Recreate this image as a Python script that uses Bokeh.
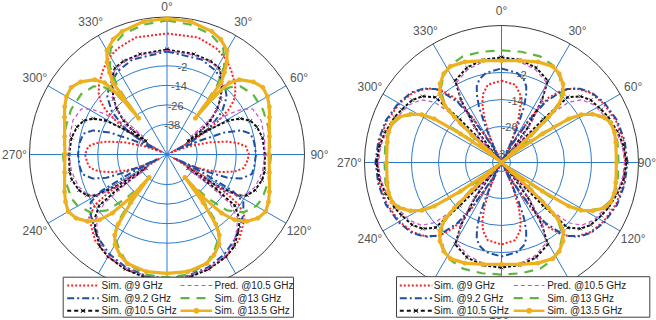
import numpy as np
from bokeh.plotting import figure
from bokeh.models import Range1d
from bokeh.embed import file_html
from bokeh.resources import INLINE
from bokeh.core.properties import value

FONT = "Liberation Sans"

# ---------------- chart values ----------------
THETA_TICKS = [0, 30, 60, 90, 120, 150, 180, 210, 240, 270, 300, 330]
R_TICKS = [-38, -26, -14, -2]
LEFT_RLIM = (-56.5, 28.0)
RIGHT_RLIM = (-42.0, 18.9)

KEYS = ["9", "9.2", "10.5", "pred", "13", "13.5"]
LABELS = ["Sim. @9 GHz", "Sim. @9.2 GHz", "Sim. @10.5 GHz",
          "Pred. @10.5 GHz", "Sim. @13 GHz", "Sim. @13.5 GHz"]

# Left panel: half patterns, angle 0..180 deg (clockwise from top), symmetric
L9_ang = [0, 15, 25, 32, 38, 44, 48, 51, 54, 57, 60, 62, 64, 66, 70, 74, 78, 81, 84, 90,
          96, 100, 104, 108, 111, 114, 117, 119, 121, 123, 125, 129, 135, 140, 150, 160, 170, 180]
L9_db = [17.9, 17.9, 15.4, 12.3, 8.0, 3.7, 0.0, -3.6, -9.8, -19.6, -31.9, -44.2, -53.4, -51.6,
         -41.1, -29.5, -18.4, -12.3, -7.9, -6.1, -7.3, -8.6, -13.5, -21.5, -28.8, -36.2, -45.4,
         -51.6, -31.9, -13.5, -2.4, 5.0, 8.6, 12.3, 16.0, 18.5, 19.7, 20.3]

L92_ang = [0, 20, 30, 40, 46, 52, 58, 62, 65, 67, 69, 72, 76, 82, 90, 98, 103, 108, 111, 113,
           115, 116, 117, 119, 122, 128, 135, 142, 150, 160, 170, 180]
L92_db = [6.8, 5.6, 3.1, -1.2, -5.5, -13.5, -25.8, -38.1, -49.1, -35.0, -19.0, -8.6, -3.6, -2.4,
          -1.8, -2.4, -3.0, -8.6, -16.5, -28.8, -41.1, -50.4, -31.9, -10.4, -1.2, 3.1, 6.8, 10.5,
          14.2, 17.3, 19.1, 19.7]

L105_ang = [0, 15, 25, 31, 35, 39, 44, 48, 52, 55, 57, 59, 61, 64, 68, 73, 80, 90, 100, 105,
            112, 117, 120, 122, 123.5, 125, 127, 132, 138, 144, 150, 160, 170, 180]
L105_db = [8.0, 7.4, 6.8, 5.6, 1.9, -3.0, -9.2, -15.3, -22.7, -30.7, -41.1, -28.8, -13.5, -6.1,
           -1.2, 1.3, 3.1, 3.7, 4.3, 4.0, 1.9, -1.2, -6.1, -19.6, -41.1, -19.6, -4.3, 3.7, 8.6,
           13.6, 16.0, 18.5, 20.3, 20.9]

LP105_ang = [0, 15, 25, 31, 35, 39, 44, 48, 51, 53, 55, 57, 59, 62, 70, 80, 90, 100, 110, 118,
             121, 123, 124.5, 126, 128, 132, 138, 144, 150, 160, 170, 180]
LP105_db = [7.4, 6.8, 6.2, 5.0, 1.9, -2.4, -8.6, -14.7, -22.7, -38.1, -22.7, -10.4, -2.4, 3.1,
            5.0, 4.3, 3.7, 3.1, 1.3, -2.4, -8.6, -22.7, -41.1, -22.7, -7.3, 1.9, 7.4, 12.3,
            15.4, 17.9, 19.1, 19.7]

L13_ang = [0, 10, 20, 28, 33, 36, 38, 40, 43, 47, 55, 65, 75, 90, 105, 115, 120, 127, 133, 137,
           140, 142, 144, 147, 153, 160, 170, 180]
L13_db = [25.9, 24.6, 22.2, 17.3, 8.0, -4.3, -25.8, -7.3, 0.0, 5.0, 8.0, 8.6, 8.0, 7.4, 8.0, 8.0,
          6.8, 2.5, -6.1, -19.6, -31.9, -19.6, -4.3, 2.5, 8.6, 14.8, 18.5, 19.1]

L135_ang = [0, 10, 20, 25, 30, 33, 35, 37, 38, 39, 41, 44, 50, 55, 60, 65, 70, 80, 90, 100,
            110, 115, 120, 125, 130, 134, 137, 140, 142, 143, 145, 147, 150, 155, 160, 170, 180]
L135_db = [27.1, 26.5, 24.0, 21.6, 17.3, 11.1, 5.0, -1.2, -28.2, -10.4, 1.9, 7.4, 12.9, 15.4,
           14.8, 12.9, 10.5, 7.4, 6.2, 7.4, 10.5, 12.3, 13.6, 11.7, 7.4, 1.3, -7.3, -22.7, -38.7,
           -19.6, -4.3, 2.5, 7.4, 11.7, 14.8, 16.6, 16.6]

# Right panel: quarter patterns, angle 0..90 deg, symmetric about both axes
R9_ang = [0, 10, 15, 18, 21, 24, 26, 27, 30, 33, 36, 40, 45, 52, 60, 70, 80, 90]
R9_db = [-5.6, -6.9, -10.4, -14.4, -20.7, -28.7, -35.3, -42.0, -30.9, -17.6, -6.4, 0.2, 4.7,
         8.2, 10.4, 12.2, 13.1, 13.1]

R92_ang = [0, 10, 15, 18, 20, 22, 24, 26, 28, 30, 33, 36, 40, 42, 47, 52, 60, 70, 80, 90]
R92_db = [-0.2, -1.6, -3.8, -6.4, -10.0, -15.3, -24.2, -33.1, -42.0, -33.1, -19.8, -8.7, -1.1,
          2.0, 6.0, 8.7, 10.9, 12.7, 13.6, 14.0]

R105_ang = [0, 10, 20, 29.5, 33, 37, 40, 41, 42, 44, 45.4, 50, 55, 62, 67, 75, 82, 90]
R105_db = [4.7, 4.4, 2.9, -0.2, -9.1, -22.4, -35.3, -42.0, -33.1, -15.3, -0.7, 3.8, 6.4, 8.2,
           9.6, 11.3, 12.7, 13.6]

RP105_ang = [0, 10, 20, 29, 33, 37, 40, 42, 44, 46, 48, 52, 58, 67, 75, 82, 90]
RP105_db = [3.8, 3.6, 2.0, -1.1, -8.7, -19.8, -30.9, -42.0, -28.7, -10.9, -2.0, 3.3, 6.4, 8.7,
            10.9, 12.2, 12.7]

R13_ang = [0, 10, 20, 28, 34, 40, 44, 47, 49, 50, 52, 55, 58, 61, 66, 72, 80, 90]
R13_db = [7.8, 8.0, 8.2, 6.9, 4.2, 0.2, -5.6, -15.3, -28.7, -42.0, -28.7, -15.3, -2.9, 2.4, 7.3,
          10.0, 10.4, 10.0]

R135_ang = [0, 10, 20, 28, 33, 38, 42, 45, 46, 47, 48, 50, 52, 55, 57, 59, 62, 66, 70, 75, 80, 90]
R135_db = [3.3, 4.0, 5.6, 6.4, 5.1, 2.4, -1.1, -6.4, -13.1, -24.2, -35.3, -42.0, -35.3, -19.8,
           -6.4, -0.7, 3.8, 7.8, 9.6, 10.0, 9.6, 9.1]


# ---------------- helpers ----------------
def mirror_half(ang, db):
    a = list(ang) + [360 - x for x in reversed(ang[:-1])]
    d = list(db) + list(reversed(db[:-1]))
    return a, d


def mirror_quarter(ang, db):
    a = list(ang) + [180 - x for x in reversed(ang[:-1])]
    d = list(db) + list(reversed(db[:-1]))
    return mirror_half(a, d)


LEFT_DATA = {k: mirror_half(a, d) for k, a, d in [
    ("9", L9_ang, L9_db), ("9.2", L92_ang, L92_db), ("10.5", L105_ang, L105_db),
    ("pred", LP105_ang, LP105_db), ("13", L13_ang, L13_db), ("13.5", L135_ang, L135_db)]}
RIGHT_DATA = {k: mirror_quarter(a, d) for k, a, d in [
    ("9", R9_ang, R9_db), ("9.2", R92_ang, R92_db), ("10.5", R105_ang, R105_db),
    ("pred", RP105_ang, RP105_db), ("13", R13_ang, R13_db), ("13.5", R135_ang, R135_db)]}

STYLE = {
    "9": dict(color="#ff2020", width=2.0, dash="2 2"),
    "9.2": dict(color="#1f4fa0", width=2.0, dash="7 3 2 3"),
    "10.5": dict(color="#111111", width=2.0, dash="3 2"),
    "pred": dict(color="#c84fc8", width=1.2, dash="4 3"),
    "13": dict(color="#5cb83c", width=2.2, dash="9 7"),
    "13.5": dict(color="#edb120", width=3.2, dash="solid"),
}

GRID = "#2b7bcc"
TXT = "#555555"
W, H = 656, 320

# panel layout (page pixel space)
PANELS = [
    dict(cx=166.5, cy=154.0, R=137.5, rlim=LEFT_RLIM, data=LEFT_DATA, lab_ang=10,
         legend=dict(box=(62.7, 293.0, 276.7, 316.7),
                     cols=[(66.7, 98.3, 101.0), (180.0, 211.7, 214.0)])),
    dict(cx=501.0, cy=162.0, R=137.0, rlim=RIGHT_RLIM, data=RIGHT_DATA, lab_ang=13,
         legend=dict(box=(396.0, 649.3, 276.2, 316.7),
                     cols=[(399.3, 431.7, 433.3), (513.3, 544.0, 546.7)])),
]
LEG_ROWS = [285.0, 297.7, 310.3]

p = figure(width=W, height=H, x_range=Range1d(0, W), y_range=Range1d(H, 0),
           toolbar_location=None, tools="", output_backend="svg", min_border=0,
           x_axis_location=None, y_axis_location=None,
           background_fill_color="white", border_fill_color="white")
p.grid.visible = False
p.outline_line_color = None


def polar_xy(pan, ang, db):
    rmin, rmax = pan["rlim"]
    scale = pan["R"] / (rmax - rmin)
    r = np.clip(np.asarray(db, float) - rmin, 0, None) * scale
    th = np.radians(np.asarray(ang, float))
    return pan["cx"] + r * np.sin(th), pan["cy"] - r * np.cos(th)


for pan in PANELS:
    cx, cy, R = pan["cx"], pan["cy"], pan["R"]
    rmin, rmax = pan["rlim"]
    scale = R / (rmax - rmin)
    # spokes
    x0, y0, x1, y1 = [], [], [], []
    for t in THETA_TICKS[:6]:
        th = np.radians(t)
        x0.append(cx - R * np.sin(th)); y0.append(cy + R * np.cos(th))
        x1.append(cx + R * np.sin(th)); y1.append(cy - R * np.cos(th))
    p.segment(x0=x0, y0=y0, x1=x1, y1=y1, line_color=GRID, line_width=1)
    # rings
    rr = [(v - rmin) * scale for v in R_TICKS]
    p.circle(x=[cx] * len(rr), y=[cy] * len(rr), radius=rr, fill_color=None,
             line_color=GRID, line_width=1)
    p.circle(x=[cx], y=[cy], radius=[R], fill_color=None, line_color="#3a3a3a", line_width=1)
    # radial tick labels
    th = np.radians(pan["lab_ang"])
    p.text(x=[cx + r * np.sin(th) for r in rr], y=[cy - r * np.cos(th) for r in rr],
           text=[str(v) for v in R_TICKS], text_font=value(FONT), text_font_size="11px",
           text_color=TXT, text_align="center", text_baseline="middle")
    # data
    for k in KEYS:
        ang, db = pan["data"][k]
        x, y = polar_xy(pan, ang, db)
        st = STYLE[k]
        p.line(x, y, line_color=st["color"], line_width=st["width"], line_dash=st["dash"],
               line_join="round")
        if k == "10.5":
            p.scatter(x, y, marker="x", size=5, line_color=st["color"], line_width=0.8)
        if k == "13.5":
            p.scatter(x, y, marker="circle", size=4, fill_color=st["color"],
                      line_color=st["color"])
    # theta labels
    d = R + 15
    tx, ty, tt = [], [], []
    for t in THETA_TICKS:
        th = np.radians(t)
        x = cx + d * np.sin(th)
        y = cy - d * np.cos(th)
        w = 12 * (0.556 * len(str(t)) + 0.4)
        y = max(y, 6.5)
        x = min(max(x, 0.5 + w / 2), W - 0.5 - w / 2)
        tx.append(x); ty.append(y); tt.append(f"{t}\u00b0")
    p.text(x=tx, y=ty, text=tt, text_font=value(FONT), text_font_size="12px",
           text_color=TXT, text_align="center", text_baseline="middle")
    # legend
    lg = pan["legend"]
    l, r_, top, bot = lg["box"]
    p.quad(left=[l], right=[r_], top=[top], bottom=[bot], fill_color="white",
           line_color="#404040", line_width=1)
    for i, (k, lab) in enumerate(zip(KEYS, LABELS)):
        c0, c1, ctext = lg["cols"][i // 3]
        yy = LEG_ROWS[i % 3]
        st = STYLE[k]
        p.line([c0, c1], [yy, yy], line_color=st["color"], line_width=min(st["width"], 2.5),
               line_dash=st["dash"] if k != "10.5" else "4 3")
        if k == "10.5":
            p.scatter([(c0 + c1) / 2], [yy], marker="x", size=6, line_color=st["color"],
                      line_width=1)
        if k == "13.5":
            p.scatter([(c0 + c1) / 2], [yy], marker="circle", size=5,
                      fill_color=st["color"], line_color=st["color"])
        p.text(x=[ctext], y=[yy], text=[lab], text_font=value(FONT), text_font_size="10px",
               text_color="#222222", text_align="left", text_baseline="middle")

open("out.html", "w").write(file_html(p, INLINE))
